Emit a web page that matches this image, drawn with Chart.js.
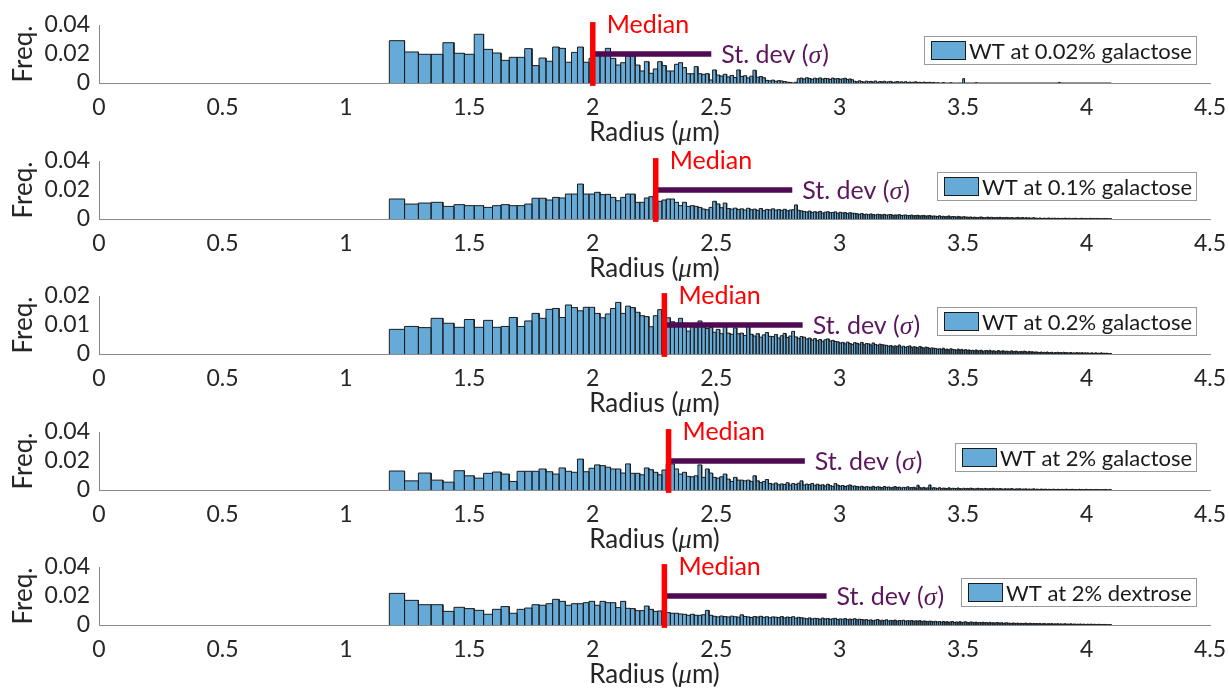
<!DOCTYPE html>
<html>
<head>
<meta charset="utf-8">
<title>Radius histograms</title>
<script src="https://cdn.jsdelivr.net/npm/chart.js@4.4.1/dist/chart.umd.min.js"></script>
<style>
  html, body { margin: 0; padding: 0; background: #fff; }
  #wrap { position: relative; width: 1229px; height: 689px; overflow: hidden; }
  .panel { position: absolute; left: 0; width: 1229px; height: 145px; }
</style>
</head>
<body>
<div id="wrap"></div>
<script>
// Radius range covered by the bins (µm); bins are equal in cell volume
const binRange = [1.176, 4.1];
const radiusRange = [0, 4.5];
const freqMax = [0.04, 0.04, 0.02, 0.04, 0.04];

const conditions = [
  "WT at 0.02% galactose",
  "WT at 0.1% galactose",
  "WT at 0.2% galactose",
  "WT at 2% galactose",
  "WT at 2% dextrose"
];
const medians = [2.0, 2.255, 2.29, 2.307, 2.29];
const stDevs = [0.48, 0.553, 0.56, 0.552, 0.657];

// frequencies per bin, in units of 1e-4
const FREQ_UNIT = 1e-4;

const wt002Gal = [
  292, 214, 198, 198, 278, 205, 198, 336, 232, 207, 156, 177, 177, 237, 120, 172, 150, 248, 239, 143, 211, 248, 143,
  170,
  212, 205, 239, 170, 124, 140, 186, 186, 124, 83, 147, 67, 97, 147, 120, 83, 83, 129, 140, 106, 64, 64, 113, 64, 60, 64, 21, 90,
  55, 48, 60, 42, 52, 38, 90, 45, 50, 35, 47, 88, 40, 44, 36,
  18, 15, 20, 12, 16, 14, 10, 6, 4, 0, 5,
  30, 34, 28, 36, 31, 26, 33, 29, 35, 27, 32, 30, 25, 34, 28, 31, 26, 29, 33, 24, 28, 22,
  12, 8, 15, 10, 6, 13, 9, 11, 7, 14, 5, 10, 8, 12, 6, 9, 11, 4, 7, 10, 6, 8, 5, 9, 3, 7, 4, 6, 8, 3, 5, 2, 6, 4, 3, 5, 2, 4,
  0, 2, 0, 0, 3, 0, 0, 0, 2, 0, 0, 0, 0, 0, 0,
  30,
  0, 0, 0, 0, 0, 0, 2, 0, 0, 0, 0, 0,
  0, 0, 0, 0, 0, 0, 0, 0, 0, 0, 0, 0,
  0, 0, 0, 0, 0, 0, 0, 0, 0, 0, 0, 0,
  0, 0, 0, 0, 0, 0, 0, 0, 0, 0, 0, 0,
  0, 0, 0, 0, 0, 0, 0, 0, 0, 0, 4, 0,
  0, 0, 0, 0, 0, 0, 0, 0, 0, 0, 0, 0,
  0, 0, 0, 0, 0, 0, 0, 0, 0, 0, 0, 0,
  0, 0, 0, 0, 0, 0, 0, 0, 0, 0, 0, 0
];

const wt01Gal = [
  138, 103, 110, 115, 87, 99, 92, 92, 80, 92, 99, 92, 92, 103, 143, 143, 131, 149, 145, 172,
  172, 241, 172, 172, 184, 168, 170, 149, 126, 149, 172, 172, 115, 115, 145, 154, 126, 122, 131, 138,
  138, 115, 92, 115, 87, 92, 87, 80, 69, 64, 80,
  122, 104, 78, 110, 72, 68, 75, 66, 70, 62, 74, 64, 68, 60, 72, 58, 66, 63, 70, 61, 65, 59, 67, 57, 62, 64, 97, 60, 56,
  52, 48, 55, 44, 50, 46, 53, 41, 47, 50, 43, 45, 49, 40, 46, 42, 44, 38, 43, 40, 39,
  36, 32, 38, 30, 34, 29, 35, 31, 27, 33, 30, 28, 32, 26, 29, 31, 25, 28, 27, 30, 24, 26, 28, 23, 25, 27, 22, 24, 26, 21, 23, 25, 20, 22, 24, 19, 21,
  20, 17, 22, 16, 19, 15, 18, 21, 14, 17, 16, 13, 18, 15, 12, 16, 14, 13,
  12, 14, 10, 13, 11, 9, 12, 14, 10, 8, 11, 13, 9, 12, 10, 8, 11, 9, 12, 7, 10, 8, 11, 9, 7, 10, 8, 6, 9, 11, 7, 8, 10, 6, 9, 7, 8, 5, 7, 9, 6,
  6, 4, 7, 5, 3, 6, 4, 5, 7, 3, 5, 4, 6, 3, 5, 4, 2, 5, 3, 6, 4, 3, 5, 2, 4, 3, 5, 4, 2, 3, 4, 5, 2, 3, 4, 2, 3, 5, 2, 4, 3, 2, 4, 3, 2, 3, 1, 4, 2, 3, 2, 1, 3
];

const wt02Gal = [
  85, 95, 91, 123, 106, 92, 119, 92, 116, 92, 95, 126, 95, 114, 140, 123, 154, 157, 126, 169,
  160, 149, 161, 161, 140, 125, 138, 157, 178, 140, 165, 160, 144, 132, 129, 94, 132, 153, 123, 125,
  111, 106, 123, 106, 79, 102, 93, 114, 94, 88, 91,
  75, 85, 70, 95, 72, 68, 90, 70,
  72, 64, 100, 68, 62, 70, 58, 66, 74, 61, 60, 67, 55, 63, 71, 57, 62, 78, 59, 54, 60,
  58, 52, 55, 48, 53, 46, 50, 44, 49, 52, 45, 47, 43,
  42, 38, 40, 35, 41, 36, 33, 39, 37, 34, 40, 32, 36, 35, 31, 38, 33, 30, 34, 32, 31,
  30, 27, 29, 25, 28, 26, 31, 24, 27, 23, 26, 28, 22, 25, 24, 21, 26, 23, 20, 24, 22, 19, 21, 20,
  19, 17, 18, 16, 20, 15, 17, 14, 18, 16, 15, 13, 17, 14, 16, 12, 15, 13,
  14, 12, 13, 11, 14, 10, 12, 13, 9, 11, 12, 10, 13, 9, 11, 10, 8, 12, 9, 10, 11, 8, 10, 9, 7, 11, 8, 9, 10, 7, 8, 9, 7, 10, 8, 6, 9, 7, 8, 6, 7,
  7, 6, 5, 7, 4, 6, 5, 7, 4, 5, 6, 3, 5, 4, 6, 4, 5, 3, 6, 4, 5, 3, 4, 5, 3, 4, 2, 5, 3, 4, 3, 5, 2, 4, 3, 4, 2, 3, 4, 2, 3, 4, 2, 3, 2, 4, 2, 3, 2, 3, 2, 1, 2
];

const wt2Gal = [
  131, 63, 117, 68, 54, 133, 98, 82, 115, 124, 110, 59, 129, 129, 129, 145, 126, 110, 152, 129,
  122, 213, 126, 150, 173, 168, 157, 145, 145, 117, 180, 115, 115, 105, 152, 140, 122, 105, 138, 180,
  180, 145, 110, 122, 94, 91, 98, 173, 87, 145, 117, 87, 82, 91, 110, 75, 59, 87, 68, 68,
  63, 68, 59, 98, 63, 51,
  58, 72, 45, 40, 48, 36, 42, 38, 50, 34, 44, 39, 47, 63, 35, 41, 37, 45, 33, 40,
  32, 36, 28, 40, 30, 25, 44, 34, 27, 31, 24, 29, 35, 26, 28,
  24, 20, 26, 18, 23, 21, 19, 25, 17, 22, 20, 16, 24, 18, 21, 15, 19, 23, 17, 20, 14, 18, 16, 22, 15, 17, 19, 13, 33, 16, 14, 18, 12, 15, 35, 13, 16,
  14, 11, 16, 9, 13, 12, 10, 15, 8, 12, 11, 9, 14, 10, 7, 12, 9, 11, 8, 13, 10, 7, 9, 12, 8, 10, 6, 11, 9, 7,
  10, 8, 12, 6, 9, 7, 10, 8, 5, 9, 7, 8, 6, 10, 7, 5, 8, 6, 9, 5, 7, 6, 8, 4, 7, 5, 6, 8, 4,
  6, 5, 3, 7, 4, 5, 6, 3, 5, 4, 2, 6, 4, 3, 5, 4, 2, 5, 3, 4, 6, 2, 4, 3, 5, 2, 4, 3, 2, 5, 3, 4, 2, 3, 5, 2, 3, 4, 2, 3, 2, 4, 3, 2, 3, 1, 3, 2, 4, 2, 1, 3, 2
];

const wt2Dex = [
  218, 170, 140, 140, 94, 122, 113, 101, 74, 108, 127, 81, 108, 117, 140, 136, 147, 177, 163, 136,
  147, 147, 154, 163, 136, 163, 154, 154, 120, 163, 115, 113, 99, 99, 131, 108, 94, 97, 81, 85,
  81, 81, 76, 74, 67, 74, 67, 67, 71, 101, 67,
  60, 56, 62, 58, 55, 61, 57, 54, 70, 59, 56, 52, 58, 55, 60, 53, 57, 50, 56, 54, 51, 58, 49, 55, 52, 57, 48, 53, 50,
  47, 43, 49, 41, 46, 44, 40, 48, 42, 45, 39, 43, 46, 38, 42, 40, 44, 37, 41, 39, 43, 36, 40, 38, 35,
  37, 32, 35, 30, 34, 38, 29, 33, 31, 36, 28, 32, 30, 34, 27, 31, 29, 33, 26, 30, 28, 31, 25, 29, 27, 30, 24, 28, 26, 23, 27, 25, 22,
  26, 21, 24, 19, 25, 20, 23, 18, 22, 24, 17, 21, 19, 23, 16, 20, 22, 18, 15, 21, 19, 17, 20, 14, 18, 16, 19, 15, 17, 13,
  18, 14, 16, 12, 17, 15, 13, 16, 11, 14, 15, 12, 13, 10, 14, 12, 11, 13, 9, 12, 10, 11, 13, 9, 10, 12, 8, 11, 9,
  10, 8, 11, 7, 9, 10, 6, 8, 9, 7, 10, 6, 8, 7, 9, 5, 8, 6, 7, 9, 5, 7, 6, 8, 5, 6, 7, 4, 6, 5, 7, 4, 6, 5, 3, 6, 4, 5, 6, 3, 5, 4, 3, 5, 4, 2, 4, 3, 4, 2, 3, 2, 3
];

const series = [wt002Gal, wt01Gal, wt02Gal, wt2Gal, wt2Dex];

const BAR_FILL = "rgb(102,170,215)";
const BAR_EDGE = "#1c1c1c";
const PURPLE = "#4e0a52";
const TEXT = "#262626";
const AXIS = "#8a8a8a";
const PANEL_STEP = 135.5;

Chart.defaults.font.family = "Lato, 'Open Sans', sans-serif";
Chart.defaults.color = TEXT;

// equal-volume bin edges between binRange[0] and binRange[1]
function binEdges(n) {
  const v0 = Math.pow(binRange[0], 3), v1 = Math.pow(binRange[1], 3);
  const edges = [];
  for (let i = 0; i <= n; i++) edges.push(Math.cbrt(v0 + (v1 - v0) * i / n));
  return edges;
}

// outline of every bar, so each one gets its own edges
function histPoints(values) {
  const edges = binEdges(values.length);
  const pts = [];
  values.forEach((v, i) => {
    const y = v * FREQ_UNIT;
    pts.push({ x: edges[i], y: 0 }, { x: edges[i], y: y }, { x: edges[i + 1], y: y }, { x: edges[i + 1], y: 0 });
  });
  return pts;
}

const panelNotes = {
  id: "panelNotes",
  afterDatasetsDraw(chart, args, opts) {
    const { ctx, chartArea, scales: { x, y } } = chart;
    ctx.save();
    ctx.textAlign = "left";
    ctx.textBaseline = "alphabetic";

    // Median label
    ctx.font = "25px Lato";
    ctx.fillStyle = "#ff0000";
    ctx.fillText("Median", x.getPixelForValue(opts.median) + 14, y.getPixelForValue(opts.top) + 8);

    // St. dev label
    let tx = x.getPixelForValue(opts.median + opts.sigma) + 10;
    const ty = y.getPixelForValue(opts.top / 2) + 9;
    ctx.fillStyle = "#5b165e";
    ctx.fillText("St. dev (", tx, ty);
    tx += ctx.measureText("St. dev (").width;
    ctx.font = "italic 26px 'Liberation Serif'";
    ctx.fillText("σ", tx, ty);
    tx += ctx.measureText("σ").width + 1;
    ctx.font = "25px Lato";
    ctx.fillText(")", tx, ty);

    // x axis title with italic mu
    const parts = [["Radius (", "26px Lato"], ["μ", "italic 27px 'Liberation Serif'"], ["m)", "26px Lato"]];
    let total = 0;
    parts.forEach(p => { ctx.font = p[1]; total += ctx.measureText(p[0]).width; });
    let px = (chartArea.left + chartArea.right) / 2 - total / 2;
    const py = chartArea.bottom + 58;
    ctx.fillStyle = TEXT;
    parts.forEach(p => { ctx.font = p[1]; ctx.fillText(p[0], px, py); px += ctx.measureText(p[0]).width; });

    // legend box
    ctx.font = "22px Lato";
    const tw = ctx.measureText(opts.label).width;
    const h = 29, w = 7 + 35 + 3 + tw + 5;
    const right = chartArea.right - 13, top = chartArea.top + 11, left = Math.round(right - w);
    ctx.fillStyle = "#fff";
    ctx.fillRect(left, top, right - left, h);
    ctx.strokeStyle = "#9a9a9a";
    ctx.lineWidth = 1;
    ctx.strokeRect(left + 0.5, top + 0.5, Math.round(right - left) - 1, h - 1);
    ctx.fillStyle = BAR_FILL;
    ctx.fillRect(left + 7, top + 5, 35, 19);
    ctx.strokeStyle = BAR_EDGE;
    ctx.strokeRect(left + 7.5, top + 5.5, 34, 18);
    ctx.fillStyle = "#1a1a1a";
    ctx.textBaseline = "middle";
    ctx.fillText(opts.label, left + 45, top + h / 2 + 1);
    ctx.restore();
  }
};

const wrap = document.getElementById("wrap");

conditions.forEach((label, k) => {
  const holder = document.createElement("div");
  holder.className = "panel";
  holder.style.top = Math.round(PANEL_STEP * k) + "px";
  const canvas = document.createElement("canvas");
  canvas.width = 1229;
  canvas.height = 145;
  canvas.style.width = "1229px";
  canvas.style.height = "145px";
  holder.appendChild(canvas);
  wrap.appendChild(holder);

  const yMax = freqMax[k];
  const med = medians[k];

  new Chart(canvas, {
    type: "line",
    data: {
      datasets: [
        {
          label: "Median",
          data: [{ x: med, y: -0.05 * yMax }, { x: med, y: 1.05 * yMax }],
          borderColor: "#ff0000",
          borderWidth: 5.5,
          pointRadius: 0,
          clip: 8
        },
        {
          label: "St. dev",
          data: [{ x: med, y: yMax / 2 }, { x: med + stDevs[k], y: yMax / 2 }],
          borderColor: PURPLE,
          borderWidth: 5.5,
          pointRadius: 0
        },
        {
          label: label,
          data: histPoints(series[k]),
          fill: "origin",
          backgroundColor: BAR_FILL,
          borderColor: BAR_EDGE,
          borderWidth: 1,
          pointRadius: 0
        }
      ]
    },
    options: {
      responsive: false,
      animation: false,
      devicePixelRatio: 1,
      events: [],
      layout: { padding: { top: 25, right: 19, left: 0, bottom: 0 } },
      plugins: {
        legend: { display: false },
        tooltip: { enabled: false },
        panelNotes: { median: med, sigma: stDevs[k], top: yMax, label: label }
      },
      scales: {
        x: {
          type: "linear",
          min: radiusRange[0],
          max: radiusRange[1],
          afterFit: (s) => { s.height = 62; s.paddingRight = 0; s.paddingLeft = 0; },
          grid: { display: false, drawTicks: false },
          border: { color: AXIS, width: 1 },
          ticks: {
            stepSize: 0.5,
            autoSkip: false,
            maxRotation: 0,
            padding: 11,
            font: { size: 23 },
            callback: (v) => String(+v.toFixed(2))
          }
        },
        y: {
          min: 0,
          max: yMax,
          afterFit: (s) => { s.width = 99; },
          grid: { display: false, drawTicks: false },
          border: { color: AXIS, width: 1 },
          ticks: {
            stepSize: yMax / 2,
            autoSkip: false,
            padding: 9,
            font: { size: 23 },
            callback: (v) => String(+v.toFixed(3))
          },
          title: { display: true, text: "Freq.", font: { size: 26 }, padding: { top: 8, bottom: 0 } }
        }
      }
    },
    plugins: [panelNotes]
  });
});
</script>
</body>
</html>
